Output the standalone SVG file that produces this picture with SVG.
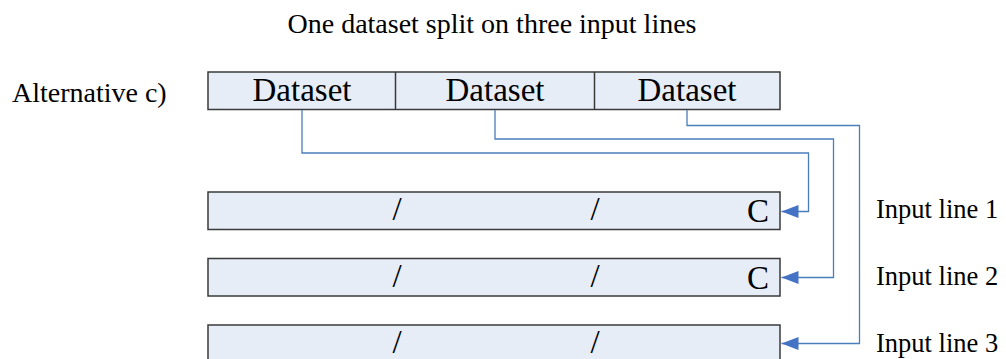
<svg xmlns="http://www.w3.org/2000/svg" width="1006" height="359" viewBox="0 0 1006 359">
<style>
.t{font-family:"Liberation Serif","Times New Roman",serif;fill:#000}
.box{fill:#E6EDF7;stroke:#3A3A3A;stroke-width:1.5}
.con{fill:none;stroke:#4A7EBB;stroke-width:1.3}
</style>
<defs>
<marker id="arr" markerUnits="userSpaceOnUse" markerWidth="18" markerHeight="14" refX="17" refY="6.5" orient="auto">
<path d="M0,0 L17,6.5 L0,13 Z" fill="#4472C4"/>
</marker>
</defs>
<rect width="1006" height="359" fill="#fff"/>
<text class="t" x="492" y="33" font-size="28" text-anchor="middle">One dataset split on three input lines</text>
<text class="t" x="12" y="102" font-size="28">Alternative c)</text>
<g id="dataset">
<rect class="box" x="208" y="72" width="572" height="37.5"/>
<line x1="395.5" y1="72" x2="395.5" y2="109.5" stroke="#3A3A3A" stroke-width="1.5"/>
<line x1="594.5" y1="72" x2="594.5" y2="109.5" stroke="#3A3A3A" stroke-width="1.5"/>
<text class="t" x="302" y="101" font-size="33" text-anchor="middle">Dataset</text>
<text class="t" x="495" y="101" font-size="33" text-anchor="middle">Dataset</text>
<text class="t" x="687" y="101" font-size="33" text-anchor="middle">Dataset</text>
</g>
<g id="line1">
<rect class="box" x="208" y="192" width="572" height="37.5"/>
<text class="t" x="397" y="220" font-size="33" text-anchor="middle">/</text>
<text class="t" x="595" y="220" font-size="33" text-anchor="middle">/</text>
<text class="t" x="758" y="222" font-size="33" text-anchor="middle">C</text>
<text class="t" x="876" y="218" font-size="26.5">Input line 1</text>
</g>
<g id="line2">
<rect class="box" x="208" y="258.5" width="572" height="37.5"/>
<text class="t" x="397" y="287" font-size="33" text-anchor="middle">/</text>
<text class="t" x="595" y="287" font-size="33" text-anchor="middle">/</text>
<text class="t" x="758" y="289" font-size="33" text-anchor="middle">C</text>
<text class="t" x="876" y="285" font-size="26.5">Input line 2</text>
</g>
<g id="line3">
<rect class="box" x="208" y="325" width="572" height="37.5"/>
<text class="t" x="397" y="353" font-size="33" text-anchor="middle">/</text>
<text class="t" x="595" y="353" font-size="33" text-anchor="middle">/</text>
<text class="t" x="876" y="352" font-size="26.5">Input line 3</text>
</g>
<g id="connectors">
<path class="con" d="M302,110 V153 H808.5 V211.5 H781.5" marker-end="url(#arr)"/>
<path class="con" d="M495,110 V139 H833.5 V277.5 H781.5" marker-end="url(#arr)"/>
<path class="con" d="M687,110 V125.5 H859.5 V343.5 H781.5" marker-end="url(#arr)"/>
</g>
</svg>
